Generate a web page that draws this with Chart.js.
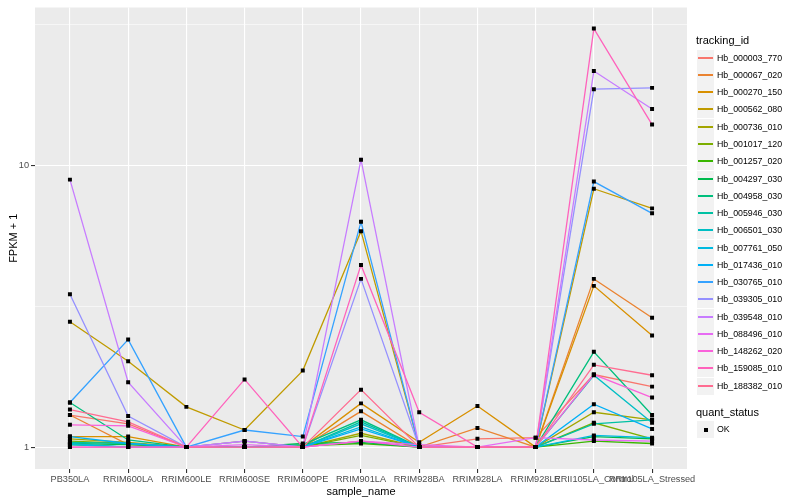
<!DOCTYPE html>
<html>
<head>
<meta charset="utf-8">
<script src="https://cdn.jsdelivr.net/npm/chart.js@4.4.0/dist/chart.umd.min.js"></script>
<style>
  body { margin: 0; background: #fff; font-family: "Liberation Sans", Arial, sans-serif; }
  #wrap { position: relative; width: 800px; height: 500px; }
  #legend { position: absolute; left: 0; top: 0; width: 800px; height: 500px; pointer-events: none; }
  .ttl { position: absolute; left: 696px; font-size: 11px; color: #000; line-height: 13px; }
  .key { position: absolute; left: 697px; width: 17px; height: 17px; background: #f2f2f2; }
  .key i { position: absolute; left: 1px; right: 1px; top: 7px; height: 2px; }
  .key b { position: absolute; left: 6.5px; top: 6.5px; width: 4px; height: 4px; background: #000; }
  .lab { position: absolute; left: 717px; font-size: 8.8px; color: #000; line-height: 10px; }
</style>
</head>
<body>
<div id="wrap">
  <canvas id="chart" width="800" height="500"></canvas>
  <div id="legend"></div>
</div>
<script>
const samples = ["PB350LA", "RRIM600LA", "RRIM600LE", "RRIM600SE", "RRIM600PE", "RRIM901LA",
  "RRIM928BA", "RRIM928LA", "RRIM928LE", "RRII105LA_Control", "RRII105LA_Stressed"];

// FPKM + 1, one value per sample
const hb_000003_770 = [1.30, 1.21, 1.00, 1.00, 1.00, 1.05, 1.00, 1.07, 1.08, 1.81, 1.64];
const hb_000067_020 = [1.30, 1.02, 1.00, 1.00, 1.00, 1.34, 1.00, 1.17, 1.00, 3.96, 2.88];
const hb_000270_150 = [1.09, 1.09, 1.00, 1.00, 1.00, 1.43, 1.04, 1.40, 1.00, 3.74, 2.49];
const hb_000562_080 = [2.79, 2.02, 1.39, 1.15, 1.87, 5.85, 1.00, 1.00, 1.00, 8.28, 7.05];
const hb_000736_010 = [1.07, 1.04, 1.00, 1.05, 1.00, 1.12, 1.00, 1.00, 1.00, 1.33, 1.25];
const hb_001017_120 = [1.05, 1.03, 1.00, 1.00, 1.00, 1.10, 1.00, 1.00, 1.00, 1.22, 1.07];
const hb_001257_020 = [1.02, 1.00, 1.00, 1.00, 1.01, 1.03, 1.00, 1.00, 1.00, 1.05, 1.03];
const hb_004297_030 = [1.03, 1.02, 1.00, 1.00, 1.03, 1.04, 1.00, 1.00, 1.00, 1.09, 1.07];
const hb_004958_030 = [1.44, 1.06, 1.00, 1.00, 1.02, 1.25, 1.00, 1.00, 1.00, 2.18, 1.30];
const hb_005946_030 = [1.04, 1.03, 1.00, 1.00, 1.00, 1.23, 1.00, 1.00, 1.00, 1.21, 1.25];
const hb_006501_030 = [1.03, 1.00, 1.00, 1.00, 1.00, 1.21, 1.00, 1.00, 1.00, 1.80, 1.22];
const hb_007761_050 = [1.02, 1.00, 1.00, 1.00, 1.00, 1.18, 1.00, 1.00, 1.00, 1.10, 1.08];
const hb_017436_010 = [1.09, 1.03, 1.00, 1.00, 1.00, 1.16, 1.00, 1.00, 1.00, 1.42, 1.16];
const hb_030765_010 = [1.44, 2.41, 1.00, 1.15, 1.09, 6.32, 1.00, 1.00, 1.00, 8.78, 6.77];
const hb_039305_010 = [3.49, 1.29, 1.00, 1.05, 1.00, 3.96, 1.00, 1.00, 1.00, 18.7, 18.9];
const hb_039548_010 = [8.92, 1.70, 1.00, 1.05, 1.00, 10.5, 1.00, 1.00, 1.00, 21.7, 15.9];
const hb_088496_010 = [1.00, 1.00, 1.00, 1.02, 1.00, 1.05, 1.02, 1.00, 1.08, 1.06, 1.05];
const hb_148262_020 = [1.20, 1.19, 1.00, 1.00, 1.00, 1.05, 1.00, 1.00, 1.00, 1.81, 1.50];
const hb_159085_010 = [1.00, 1.00, 1.00, 1.74, 1.00, 4.44, 1.33, 1.00, 1.00, 30.7, 14.0];
const hb_188382_010 = [1.36, 1.23, 1.00, 1.00, 1.00, 1.60, 1.00, 1.00, 1.00, 1.96, 1.80];

const trackingIds = ["Hb_000003_770", "Hb_000067_020", "Hb_000270_150", "Hb_000562_080", "Hb_000736_010",
  "Hb_001017_120", "Hb_001257_020", "Hb_004297_030", "Hb_004958_030", "Hb_005946_030",
  "Hb_006501_030", "Hb_007761_050", "Hb_017436_010", "Hb_030765_010", "Hb_039305_010",
  "Hb_039548_010", "Hb_088496_010", "Hb_148262_020", "Hb_159085_010", "Hb_188382_010"];
const series = [hb_000003_770, hb_000067_020, hb_000270_150, hb_000562_080, hb_000736_010,
  hb_001017_120, hb_001257_020, hb_004297_030, hb_004958_030, hb_005946_030,
  hb_006501_030, hb_007761_050, hb_017436_010, hb_030765_010, hb_039305_010,
  hb_039548_010, hb_088496_010, hb_148262_020, hb_159085_010, hb_188382_010];
const yMajor = [1, 10];
const yMinor = [Math.sqrt(10), Math.pow(10, 1.5)];

// ggplot hue palette, 20 levels
const palette = ["#F8766D", "#EA8331", "#D89000", "#C09B00", "#A3A500", "#7CAE00", "#39B600", "#00BB4E",
  "#00BF7D", "#00C1A3", "#00BFC4", "#00BAE0", "#00B0F6", "#35A2FF", "#9590FF", "#C77CFF",
  "#E76BF3", "#FA62DB", "#FF62BC", "#FF6C91"];

const toPoints = vals => vals.map((v, i) => ({ x: i, y: v }));

const datasets = [];
series.forEach((vals, i) => {
  datasets.push({
    label: trackingIds[i],
    data: toPoints(vals),
    borderColor: palette[i],
    borderWidth: 1.3,
    pointRadius: 0,
    tension: 0,
    order: -i
  });
  datasets.push({
    label: trackingIds[i] + " OK",
    data: toPoints(vals),
    showLine: false,
    pointStyle: "rect",
    pointRadius: 2.8,
    pointBackgroundColor: "#000",
    pointBorderWidth: 0,
    order: -100
  });
});

const panelBg = {
  id: "panelBg",
  beforeDraw(chart) {
    const a = chart.chartArea;
    const ctx = chart.ctx;
    ctx.save();
    ctx.fillStyle = "#EBEBEB";
    ctx.fillRect(a.left, a.top, a.right - a.left, a.bottom - a.top);
    ctx.restore();
  }
};

const tickFont = { family: "Liberation Sans", size: 9.2 };
const titleFont = { family: "Liberation Sans", size: 11 };

new Chart(document.getElementById("chart").getContext("2d"), {
  type: "line",
  data: { datasets: datasets },
  plugins: [panelBg],
  options: {
    responsive: false,
    animation: false,
    layout: { padding: { left: 0, right: 113, top: 5, bottom: 0 } },
    plugins: { legend: { display: false }, tooltip: { enabled: false } },
    scales: {
      x: {
        type: "linear",
        min: -0.6,
        max: samples.length - 1 + 0.6,
        afterBuildTicks: s => { s.ticks = samples.map((_, i) => ({ value: i })); },
        afterFit: s => { s.height = 31; },
        border: { display: false },
        grid: { color: "#FFFFFF", lineWidth: 1.1, tickLength: 4, tickColor: "#333333", tickWidth: 1.1 },
        ticks: {
          autoSkip: false, maxRotation: 0, minRotation: 0, padding: 1,
          color: "#4D4D4D", font: tickFont,
          callback: v => samples[v]
        },
        title: { display: true, text: "sample_name", color: "#000", font: titleFont, padding: { top: 0, bottom: 1 } }
      },
      y: {
        type: "logarithmic",
        min: 0.836,
        max: 36.47,
        afterBuildTicks: s => {
          s.ticks = yMajor.concat(yMinor).sort((a, b) => a - b).map(v => ({ value: v }));
        },
        afterFit: s => { s.width = 35; },
        border: { display: false },
        grid: {
          color: "#FFFFFF",
          lineWidth: c => (c.tick && yMajor.includes(c.tick.value)) ? 1.1 : 0.55,
          tickLength: 4,
          tickWidth: 1.1,
          tickColor: c => (c.tick && yMajor.includes(c.tick.value)) ? "#333333" : "rgba(0,0,0,0)"
        },
        ticks: {
          autoSkip: false, padding: 2, color: "#4D4D4D", font: tickFont,
          callback: v => yMajor.includes(v) ? String(v) : ""
        },
        title: { display: true, text: "FPKM + 1", color: "#000", font: titleFont, padding: { top: 7, bottom: 0 } }
      }
    }
  }
});

// legend (ggplot style, on the right)
const legend = document.getElementById("legend");
function add(cls, top, html) {
  const d = document.createElement("div");
  d.className = cls;
  d.style.top = top + "px";
  d.innerHTML = html;
  legend.appendChild(d);
  return d;
}
add("ttl", 34, "tracking_id");
trackingIds.forEach((id, i) => {
  const cy = Math.round(57.7 + 17.26 * i);
  const k = add("key", cy - 8, "<i></i>");
  k.firstChild.style.background = palette[i];
  add("lab", cy - 5, id);
});
add("ttl", 405.5, "quant_status");
add("key", 429 - 8, "<b></b>");
add("lab", 429 - 5, "OK");
</script>
</body>
</html>
